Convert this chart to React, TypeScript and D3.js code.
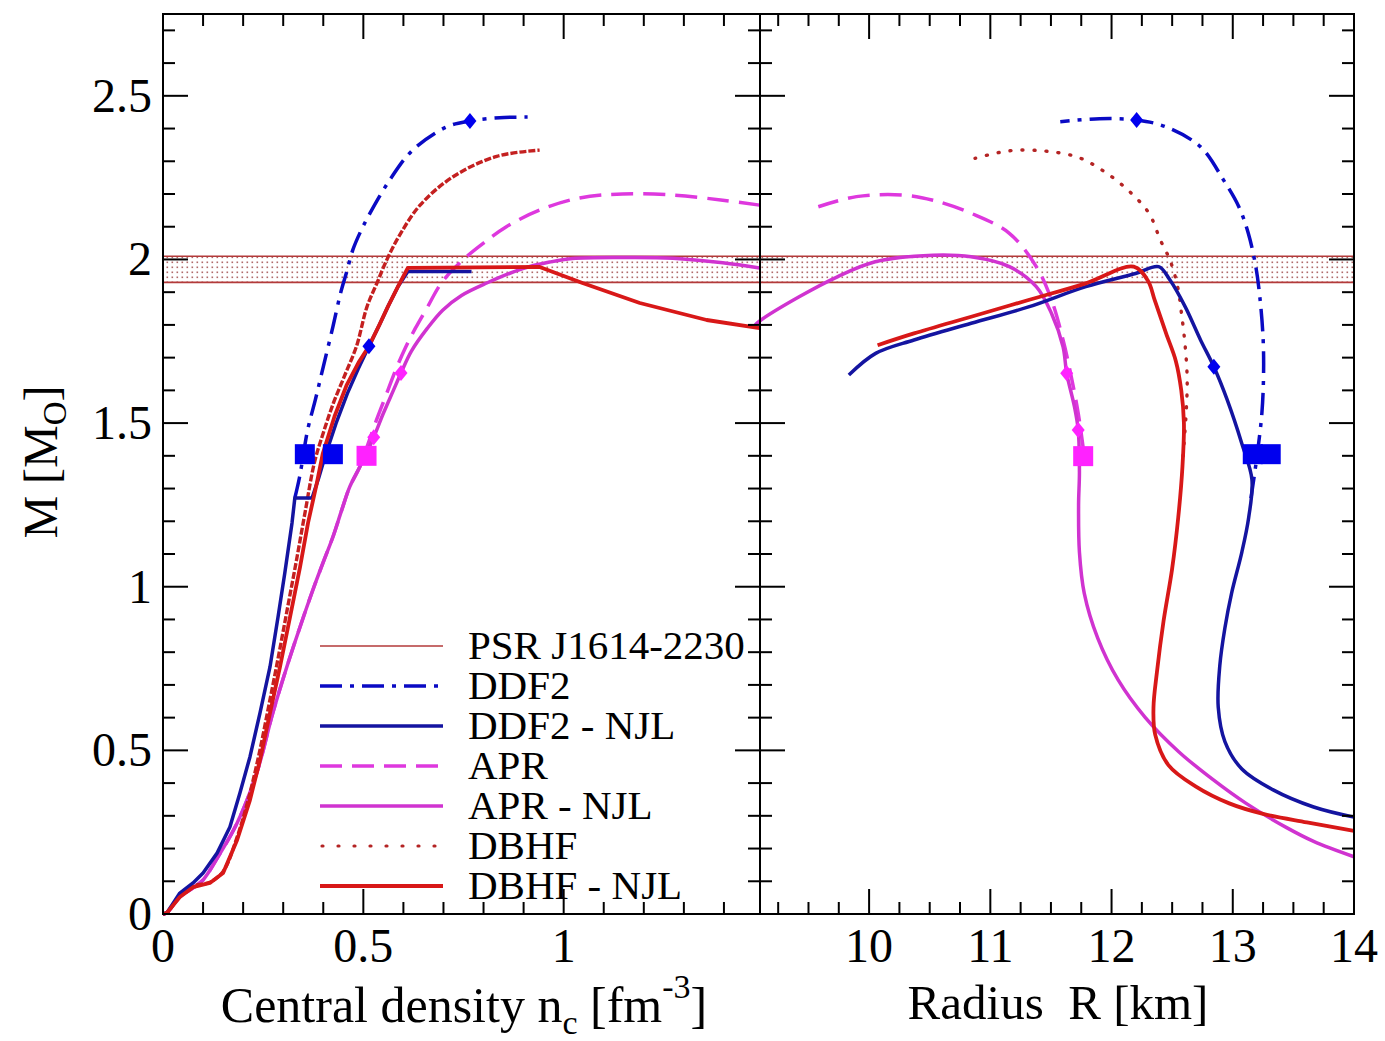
import React from 'react';
import * as d3 from 'd3';

type Pt = [number, number];

// ---------------- data ----------------
const yMajorTicks = [0, 0.5, 1, 1.5, 2, 2.5];
const yTickLabels = ['0', '0.5', '1', '1.5', '2', '2.5'];
const leftXMajorTicks = [0, 0.5, 1];
const leftXTickLabels = ['0', '0.5', '1'];
const rightXMajorTicks = [10, 11, 12, 13, 14];
const rightXTickLabels = ['10', '11', '12', '13', '14'];

const psrBand: [number, number] = [1.93, 2.01];

// Left panel: M vs central density n_c
const ddf2Left: Pt[] = [
  [0.329, 1.271], [0.341, 1.336], [0.361, 1.479], [0.38, 1.57], [0.4, 1.672], [0.424, 1.794],
  [0.443, 1.896], [0.458, 1.96], [0.474, 2.03], [0.493, 2.085], [0.516, 2.14], [0.566, 2.243],
  [0.623, 2.334], [0.708, 2.405], [0.766, 2.423], [0.84, 2.433], [0.91, 2.435],
];
const ddf2NjlLeft: Pt[] = [
  [0, 0], [0.01, 0.004], [0.042, 0.064], [0.075, 0.095], [0.1, 0.125], [0.135, 0.186],
  [0.167, 0.266], [0.192, 0.37], [0.217, 0.48], [0.242, 0.614], [0.267, 0.755], [0.287, 0.907],
  [0.304, 1.042], [0.322, 1.195], [0.329, 1.271], [0.372, 1.271], [0.388, 1.33], [0.405, 1.4],
  [0.432, 1.5], [0.46, 1.59], [0.487, 1.665], [0.514, 1.735], [0.54, 1.8], [0.563, 1.86],
  [0.587, 1.918], [0.611, 1.963], [0.77, 1.963],
];
const dbhfLeft: Pt[] = [
  [0, 0], [0.01, 0.004], [0.042, 0.055], [0.075, 0.085], [0.117, 0.097], [0.15, 0.13],
  [0.185, 0.235], [0.215, 0.36], [0.24, 0.49], [0.263, 0.63], [0.287, 0.78], [0.31, 0.93],
  [0.333, 1.08], [0.355, 1.23], [0.378, 1.38], [0.4, 1.47], [0.425, 1.56], [0.455, 1.65],
  [0.483, 1.735], [0.509, 1.855], [0.534, 1.928], [0.559, 2.0], [0.591, 2.075], [0.641, 2.165],
  [0.723, 2.252], [0.833, 2.315], [0.94, 2.334],
];
const dbhfNjlLeft: Pt[] = [
  [0, 0], [0.01, 0.004], [0.042, 0.052], [0.075, 0.082], [0.117, 0.095], [0.15, 0.125],
  [0.185, 0.226], [0.217, 0.348], [0.242, 0.47], [0.267, 0.614], [0.292, 0.755], [0.317, 0.907],
  [0.342, 1.06], [0.362, 1.195], [0.384, 1.317], [0.399, 1.408], [0.428, 1.52], [0.458, 1.615],
  [0.488, 1.685], [0.514, 1.735], [0.54, 1.8], [0.561, 1.855], [0.586, 1.916], [0.611, 1.974],
  [0.94, 1.977], [1.047, 1.928], [1.19, 1.867], [1.357, 1.815], [1.489, 1.79],
];
const aprLeft: Pt[] = [
  [0, 0], [0.01, 0.004], [0.04, 0.05], [0.075, 0.08], [0.1, 0.104], [0.14, 0.18], [0.185, 0.278],
  [0.234, 0.431], [0.274, 0.614], [0.309, 0.755], [0.342, 0.877], [0.374, 0.99], [0.399, 1.072],
  [0.424, 1.152], [0.446, 1.234], [0.466, 1.305], [0.491, 1.366], [0.509, 1.427], [0.53, 1.5],
  [0.555, 1.58], [0.58, 1.66], [0.605, 1.73], [0.63, 1.79], [0.658, 1.85], [0.696, 1.93],
  [0.75, 2.0], [0.8, 2.05], [0.857, 2.1], [0.94, 2.151], [1.04, 2.188], [1.147, 2.2],
  [1.272, 2.197], [1.397, 2.181], [1.489, 2.166],
];
const aprNjlLeft: Pt[] = [
  [0, 0], [0.01, 0.004], [0.04, 0.05], [0.075, 0.08], [0.1, 0.104], [0.14, 0.18], [0.185, 0.278],
  [0.234, 0.431], [0.274, 0.614], [0.309, 0.755], [0.342, 0.877], [0.374, 0.99], [0.399, 1.072],
  [0.424, 1.152], [0.446, 1.234], [0.466, 1.305], [0.491, 1.366], [0.509, 1.41], [0.526, 1.457],
  [0.55, 1.53], [0.575, 1.6], [0.594, 1.653], [0.62, 1.72], [0.66, 1.79], [0.698, 1.845],
  [0.745, 1.89], [0.808, 1.928], [0.898, 1.972], [0.965, 1.992], [1.022, 2.003], [1.147, 2.006],
  [1.272, 2.004], [1.397, 1.99], [1.489, 1.974],
];

// Right panel: M vs radius R
const ddf2Right: Pt[] = [
  [13.15, 1.27], [13.2, 1.4], [13.24, 1.53], [13.254, 1.65], [13.25, 1.76], [13.223, 1.886],
  [13.19, 1.978], [13.128, 2.08], [13.05, 2.161], [12.923, 2.243], [12.734, 2.344], [12.45, 2.405],
  [12.207, 2.426], [11.9, 2.43], [11.577, 2.421],
];
const ddf2NjlRight: Pt[] = [
  [14.0, 0.296], [13.667, 0.327], [13.329, 0.38], [13.075, 0.443], [12.935, 0.527], [12.88, 0.632],
  [12.893, 0.759], [12.935, 0.874], [12.99, 0.98], [13.075, 1.106], [13.131, 1.211], [13.158, 1.327],
  [13.075, 1.437], [12.955, 1.57], [12.844, 1.672], [12.734, 1.754], [12.608, 1.855], [12.482, 1.937],
  [12.388, 1.978], [12.198, 1.957], [11.788, 1.917], [11.315, 1.855], [10.842, 1.805], [10.37, 1.754],
  [10.054, 1.713], [9.833, 1.647],
];
const dbhfRight: Pt[] = [
  [12.59, 1.4], [12.615, 1.53], [12.624, 1.632], [12.608, 1.733], [12.577, 1.835], [12.545, 1.917],
  [12.482, 1.998], [12.403, 2.059], [12.309, 2.141], [12.135, 2.212], [11.93, 2.271], [11.725, 2.312],
  [11.457, 2.331], [11.157, 2.332], [10.874, 2.309],
];
const dbhfNjlRight: Pt[] = [
  [14.0, 0.254], [13.612, 0.28], [13.25, 0.306], [12.971, 0.338], [12.693, 0.39], [12.471, 0.454],
  [12.36, 0.548], [12.346, 0.632], [12.374, 0.738], [12.429, 0.895], [12.499, 1.053], [12.55, 1.211],
  [12.585, 1.368], [12.597, 1.5], [12.575, 1.6], [12.53, 1.69], [12.45, 1.774], [12.356, 1.876],
  [12.3, 1.935], [12.183, 1.978], [11.788, 1.927], [11.315, 1.876], [10.842, 1.825], [10.37, 1.774],
  [10.07, 1.738],
];
const aprRight: Pt[] = [
  [11.772, 1.408], [11.725, 1.53], [11.662, 1.652], [11.6, 1.754], [11.505, 1.876], [11.379, 1.978],
  [11.157, 2.08], [10.842, 2.141], [10.527, 2.181], [10.275, 2.197], [9.896, 2.192], [9.581, 2.161],
];
const aprNjlRight: Pt[] = [
  [14.0, 0.175], [13.667, 0.222], [13.444, 0.264], [13.11, 0.338], [12.832, 0.412], [12.554, 0.496],
  [12.277, 0.601], [12.053, 0.716], [11.886, 0.843], [11.775, 0.98], [11.735, 1.106], [11.728, 1.25],
  [11.735, 1.35], [11.725, 1.479], [11.694, 1.55], [11.63, 1.652], [11.6, 1.733], [11.505, 1.835],
  [11.379, 1.917], [11.157, 1.978], [10.842, 2.008], [10.527, 2.013], [10.05, 1.993], [9.738, 1.947],
  [9.423, 1.886], [9.108, 1.815], [9.06, 1.8],
];

// markers: [x, M]
const leftSquaresBlue: Pt[] = [[0.354, 1.405], [0.424, 1.405]];
const leftSquaresMagenta: Pt[] = [[0.508, 1.4]];
const leftDiamondsBlue: Pt[] = [[0.766, 2.423], [0.514, 1.735]];
const leftDiamondsMagenta: Pt[] = [[0.526, 1.457], [0.594, 1.653]];
const rightSquaresBlue: Pt[] = [[13.165, 1.405], [13.313, 1.405]];
const rightSquaresMagenta: Pt[] = [[11.766, 1.399]];
const rightDiamondsBlue: Pt[] = [[12.207, 2.426], [12.844, 1.672]];
const rightDiamondsMagenta: Pt[] = [[11.63, 1.652], [11.725, 1.479]];

const legendLabels = ['PSR J1614-2230', 'DDF2', 'DDF2 - NJL', 'APR', 'APR - NJL', 'DBHF', 'DBHF - NJL'];

// ---------------- styles ----------------
const FONT = '"Liberation Serif", "Times New Roman", Times, serif';
const C = {
  psr: '#b33a3a',
  ddf2: '#0a0ac4',
  ddf2Njl: '#1414a0',
  apr: '#de38de',
  aprNjl: '#d033d0',
  dbhf: '#b42424',
  dbhfNjl: '#d81818',
  markBlue: '#0000ee',
  markMag: '#ff22ff',
};
const styleList = [
  { color: C.psr, width: 1.6, dash: '' },
  { color: C.ddf2, width: 3.5, dash: '22,8,4,8' },
  { color: C.ddf2Njl, width: 3.5, dash: '' },
  { color: C.apr, width: 3.5, dash: '22,10' },
  { color: C.aprNjl, width: 3.5, dash: '' },
  { color: C.dbhf, width: 3.2, dash: '4,12' },
  { color: C.dbhfNjl, width: 3.8, dash: '' },
];

const W = 1385;
const H = 1041;
const TOP = 14;
const BOT = 914;
const L0 = 163;
const MID = 760;
const R1 = 1354;

export default function App() {
  const yS = d3.scaleLinear().domain([0, 2.75]).range([BOT, TOP]);
  const xL = d3.scaleLinear().domain([0, 1.49]).range([L0, MID]);
  const xR = d3.scaleLinear().domain([9.1, 14]).range([MID, R1]);

  const smooth = d3.curveCatmullRom.alpha(0.5);
  const mkLine = (xs: d3.ScaleLinear<number, number>, curve: d3.CurveFactory) =>
    d3.line<Pt>().x((d) => xs(d[0])).y((d) => yS(d[1])).curve(curve);
  const lineLs = mkLine(xL, smooth);
  const lineLl = mkLine(xL, d3.curveLinear);
  const lineRs = mkLine(xR, smooth);

  const curve = (d: string | null, s: { color: string; width: number; dash: string }, key: string, round = false) => (
    <path key={key} d={d || ''} fill="none" stroke={s.color} strokeWidth={s.width}
      strokeDasharray={s.dash || undefined} strokeLinejoin="round" strokeLinecap={round ? 'round' : 'butt'} />
  );

  const dbhfLeftStyle = { color: '#c42020', width: 3.4, dash: '7,2' };
  const dbhfRightStyle = { color: C.dbhf, width: 3.4, dash: '1,11' };

  // ticks
  const yMinor = d3.range(0, 2.7501, 0.1).filter((v) => Math.abs(v * 2 - Math.round(v * 2)) > 1e-6);
  const xLMinor = d3.range(0.1, 1.49, 0.1).filter((v) => Math.abs(v * 2 - Math.round(v * 2)) > 1e-6);
  const xRMinor = d3.range(9.25, 14, 0.25).filter((v) => Math.abs(v - Math.round(v)) > 1e-6);
  const MAJ = 25;
  const MIN = 12;

  const tickLines: JSX.Element[] = [];
  const addY = (v: number, len: number, k: string) => {
    const y = yS(v);
    tickLines.push(<line key={'yl' + k} x1={L0} x2={L0 + len} y1={y} y2={y} />);
    tickLines.push(<line key={'ym1' + k} x1={MID - len} x2={MID} y1={y} y2={y} />);
    tickLines.push(<line key={'ym2' + k} x1={MID} x2={MID + len} y1={y} y2={y} />);
    tickLines.push(<line key={'yr' + k} x1={R1 - len} x2={R1} y1={y} y2={y} />);
  };
  yMajorTicks.forEach((v, i) => addY(v, MAJ, 'M' + i));
  yMinor.forEach((v, i) => addY(v, MIN, 'm' + i));
  const addX = (xs: d3.ScaleLinear<number, number>, v: number, len: number, k: string) => {
    const x = xs(v);
    tickLines.push(<line key={'xb' + k} x1={x} x2={x} y1={BOT} y2={BOT - len} />);
    tickLines.push(<line key={'xt' + k} x1={x} x2={x} y1={TOP} y2={TOP + len} />);
  };
  leftXMajorTicks.forEach((v, i) => addX(xL, v, MAJ, 'LM' + i));
  xLMinor.forEach((v, i) => addX(xL, v, MIN, 'Lm' + i));
  rightXMajorTicks.forEach((v, i) => addX(xR, v, MAJ, 'RM' + i));
  xRMinor.forEach((v, i) => addX(xR, v, MIN, 'Rm' + i));

  const square = (xs: d3.ScaleLinear<number, number>, p: Pt, color: string, k: string) => (
    <rect key={k} x={xs(p[0]) - 10} y={yS(p[1]) - 10} width={20} height={20} fill={color} />
  );
  const diamond = (xs: d3.ScaleLinear<number, number>, p: Pt, color: string, k: string) => {
    const cx = xs(p[0]);
    const cy = yS(p[1]);
    const dx = 6.5;
    const dy = 8;
    return <path key={k} d={`M${cx},${cy - dy}L${cx + dx},${cy}L${cx},${cy + dy}L${cx - dx},${cy}Z`} fill={color} />;
  };

  const bandTop = yS(psrBand[1]);
  const bandBot = yS(psrBand[0]);

  const legendY0 = 646;
  const legendDY = 40;
  const tStyle = { fontFamily: FONT };

  return (
    <svg width={W} height={H} style={{ position: 'absolute', left: 0, top: 0, background: '#fff', fontFamily: FONT }}>
      <defs>
        <pattern id="psrDots" width="5" height="5" patternUnits="userSpaceOnUse">
          <rect width="5" height="5" fill="#fff" />
          <rect x="1.5" y="1.5" width="1.6" height="1.6" fill="#b06a6a" />
        </pattern>
      </defs>
      <rect x={0} y={0} width={W} height={H} fill="#fff" />

      {/* PSR band */}
      <rect x={L0} y={bandTop} width={R1 - L0} height={bandBot - bandTop} fill="url(#psrDots)" />
      <line x1={L0} x2={R1} y1={bandTop} y2={bandTop} stroke={C.psr} strokeWidth={1.6} />
      <line x1={L0} x2={R1} y1={bandBot} y2={bandBot} stroke={C.psr} strokeWidth={1.6} />

      {/* left panel curves */}
      {curve(lineLs(aprLeft), styleList[3], 'aprL')}
      {curve(lineLs(aprNjlLeft), styleList[4], 'aprNL')}
      {curve(lineLs(dbhfLeft), dbhfLeftStyle, 'dbhfL')}
      {curve(lineLs(ddf2Left), styleList[1], 'ddf2L')}
      {curve(lineLl(ddf2NjlLeft), styleList[2], 'ddf2NL')}
      {curve(lineLl(dbhfNjlLeft), styleList[6], 'dbhfNL')}

      {/* right panel curves */}
      {curve(lineRs(aprRight), styleList[3], 'aprR')}
      {curve(lineRs(aprNjlRight), styleList[4], 'aprNR')}
      {curve(lineRs(dbhfRight), dbhfRightStyle, 'dbhfR', true)}
      {curve(lineRs(ddf2Right), styleList[1], 'ddf2R')}
      {curve(lineRs(ddf2NjlRight), styleList[2], 'ddf2NR')}
      {curve(lineRs(dbhfNjlRight), styleList[6], 'dbhfNR')}

      {/* markers */}
      {leftSquaresBlue.map((p, i) => square(xL, p, C.markBlue, 'lsb' + i))}
      {leftSquaresMagenta.map((p, i) => square(xL, p, C.markMag, 'lsm' + i))}
      {leftDiamondsBlue.map((p, i) => diamond(xL, p, C.markBlue, 'ldb' + i))}
      {leftDiamondsMagenta.map((p, i) => diamond(xL, p, C.markMag, 'ldm' + i))}
      {rightSquaresBlue.map((p, i) => square(xR, p, C.markBlue, 'rsb' + i))}
      {rightSquaresMagenta.map((p, i) => square(xR, p, C.markMag, 'rsm' + i))}
      {rightDiamondsBlue.map((p, i) => diamond(xR, p, C.markBlue, 'rdb' + i))}
      {rightDiamondsMagenta.map((p, i) => diamond(xR, p, C.markMag, 'rdm' + i))}

      {/* frames and ticks */}
      <g stroke="#000" strokeWidth={2} fill="none">
        <rect x={L0} y={TOP} width={MID - L0} height={BOT - TOP} />
        <rect x={MID} y={TOP} width={R1 - MID} height={BOT - TOP} />
        {tickLines}
      </g>

      {/* tick labels */}
      <g fontSize={48} fill="#000" style={tStyle}>
        {yMajorTicks.map((v, i) => (
          <text key={'ytl' + i} x={152} y={yS(v) + 16} textAnchor="end" style={tStyle}>{yTickLabels[i]}</text>
        ))}
        {leftXMajorTicks.map((v, i) => (
          <text key={'xltl' + i} x={xL(v)} y={962} textAnchor="middle" style={tStyle}>{leftXTickLabels[i]}</text>
        ))}
        {rightXMajorTicks.map((v, i) => (
          <text key={'xrtl' + i} x={xR(v)} y={962} textAnchor="middle" style={tStyle}>{rightXTickLabels[i]}</text>
        ))}
      </g>

      {/* axis titles */}
      <text x={464} y={1022} fontSize={50} fill="#000" textAnchor="middle" style={tStyle}>
        Central density n<tspan dy={12} fontSize={34}>c</tspan>
        <tspan dy={-12}>{' [fm'}</tspan>
        <tspan dy={-24} fontSize={34}>-3</tspan>
        <tspan dy={24}>]</tspan>
      </text>
      <text x={1058} y={1019} fontSize={49} fill="#000" textAnchor="middle" style={{ ...tStyle, whiteSpace: 'pre' }}>{'Radius  R [km]'}</text>
      <text transform="translate(57,462) rotate(-90)" textAnchor="middle" fontSize={48} fill="#000" style={tStyle}>
        M [M<tspan dy={9} fontSize={33}>O</tspan>
        <tspan dy={-9}>]</tspan>
      </text>

      {/* legend */}
      {legendLabels.map((lab, i) => {
        const y = legendY0 + i * legendDY;
        const s = styleList[i];
        const isDot = i === 5;
        return (
          <g key={'lg' + i}>
            <line x1={isDot ? 322 : 320} x2={443} y1={y} y2={y} stroke={s.color} strokeWidth={s.width}
              strokeDasharray={isDot ? '1,15' : s.dash || undefined} strokeLinecap={isDot ? 'round' : 'butt'} />
            <text x={468} y={y + 13} fontSize={41} fill="#000" style={tStyle}>{lab}</text>
          </g>
        );
      })}
    </svg>
  );
}
